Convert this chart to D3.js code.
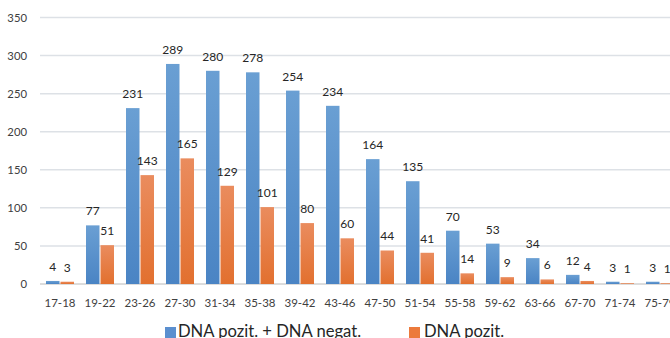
<!DOCTYPE html>
<html><head><meta charset="utf-8">
<script src="https://cdn.jsdelivr.net/npm/d3@7"></script>
<style>body{margin:0;background:#fff}svg{display:block}</style>
</head><body>
<svg id="c" width="670" height="338"></svg>
<script>
const categories = ["17-18","19-22","23-26","27-30","31-34","35-38","39-42","43-46","47-50","51-54","55-58","59-62","63-66","67-70","71-74","75-79"];
const totalValues = [4,77,231,289,280,278,254,234,164,135,70,53,34,12,3,3];
const positiveValues = [3,51,143,165,129,101,80,60,44,41,14,9,6,4,1,1];
const yTicks = [0,50,100,150,200,250,300,350];
const seriesNames = ["DNA pozit. + DNA negat.","DNA pozit."];

const svg = d3.select("#c");
const font = "Lato, 'Open Sans', sans-serif";
const defs = svg.append("defs");
function grad(id, c1, c2){
  const g = defs.append("linearGradient").attr("id", id).attr("x1",0).attr("y1",0).attr("x2",0).attr("y2",1);
  g.append("stop").attr("offset","0%").attr("stop-color",c1);
  g.append("stop").attr("offset","100%").attr("stop-color",c2);
}
grad("gb","#6a9fd3","#4a84c4");
grad("go","#ea8c5e","#e2702f");
const colors = ["url(#gb)","url(#go)"];
const legendColors = ["#5b8fcf","#ec7a3c"];

const x = d3.scaleBand().domain(categories).range([40,680]).paddingInner(0.3).paddingOuter(0.15);
const xs = d3.scaleBand().domain([0,1]).range([0,x.bandwidth()]).paddingInner(0.07);
const y = d3.scaleLinear().domain([0,350]).range([284,17.5]);

// gridlines
svg.append("g").selectAll("line").data(yTicks).join("line")
  .attr("x1",40).attr("x2",670)
  .attr("y1",d=>y(d)).attr("y2",d=>y(d))
  .attr("stroke", d=> d===0 ? "#d0d0d0" : "#dde1e6").attr("stroke-width",1.5);

// y labels
svg.append("g").selectAll("text").data(yTicks).join("text")
  .attr("x",27).attr("y",d=>y(d)+4)
  .attr("text-anchor","end").attr("font-family",font).attr("font-size",11.3).attr("fill","#404040")
  .text(d=>d);

// x labels
svg.append("g").selectAll("text").data(categories).join("text")
  .attr("x",d=>x(d)+x.bandwidth()/2).attr("y",306.5)
  .attr("text-anchor","middle").attr("font-family",font).attr("font-size",11.5).attr("fill","#404040")
  .text(d=>d);

const series = [totalValues, positiveValues];
series.forEach((vals, si) => {
  const g = svg.append("g");
  g.selectAll("rect").data(vals).join("rect")
    .attr("x",(d,i)=>x(categories[i])+xs(si))
    .attr("width",xs.bandwidth())
    .attr("y",d=>y(d))
    .attr("height",d=>y(0)-y(d))
    .attr("fill",colors[si]);
  g.selectAll("text").data(vals).join("text")
    .attr("x",(d,i)=>x(categories[i])+xs(si)+xs.bandwidth()/2)
    .attr("y",d=>y(d)-10)
    .attr("text-anchor","middle").attr("font-family",font).attr("font-size",12).attr("fill","#262626")
    .text(d=>d);
});

// legend
const leg = [{x:165, tx:178}, {x:409, tx:424}];
seriesNames.forEach((n,i)=>{
  svg.append("rect").attr("x",leg[i].x).attr("y",327).attr("width",11).attr("height",11).attr("fill",legendColors[i]);
  svg.append("text").attr("x",leg[i].tx).attr("y",337).attr("font-family",font).attr("font-size",16.6).attr("fill","#262626").text(n);
});
</script>
</body></html>
